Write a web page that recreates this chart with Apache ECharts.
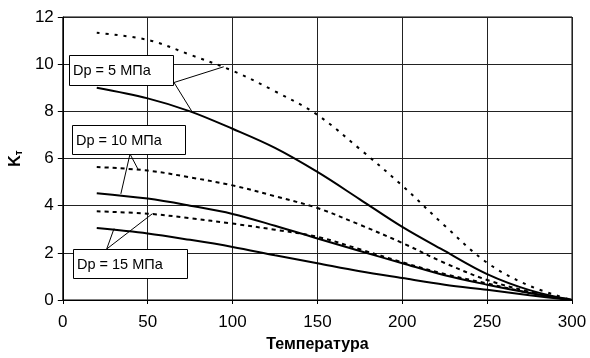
<!DOCTYPE html>
<html><head><meta charset="utf-8">
<script src="https://cdn.jsdelivr.net/npm/echarts@6/dist/echarts.min.js"></script>
<style>html,body{margin:0;padding:0;background:#fff}#c{width:590px;height:358px}</style>
</head><body><div id="c"></div>
<script>
const temps = [20, 50, 75, 100, 125, 150, 175, 200, 225, 250, 275, 300];
const dp5Dashed  = [11.33, 11.03, 10.4, 9.72, 8.85, 7.85, 6.4, 4.85, 3.15, 1.58, 0.6, 0];
const dp5Solid   = [9.0, 8.55, 8.0, 7.26, 6.45, 5.43, 4.27, 3.1, 2.08, 1.1, 0.42, 0];
const dp10Dashed = [5.64, 5.49, 5.2, 4.86, 4.4, 3.9, 3.19, 2.42, 1.57, 0.85, 0.35, 0];
const dp10Solid  = [4.53, 4.3, 4.0, 3.65, 3.15, 2.61, 2.08, 1.56, 1.05, 0.65, 0.3, 0];
const dp15Dashed = [3.76, 3.66, 3.47, 3.24, 2.98, 2.68, 2.15, 1.6, 1.1, 0.7, 0.3, 0];
const dp15Solid  = [3.05, 2.82, 2.55, 2.25, 1.9, 1.56, 1.22, 0.93, 0.65, 0.43, 0.2, 0];
const xTicks = [0, 50, 100, 150, 200, 250, 300];
const yTicks = [0, 2, 4, 6, 8, 10, 12];
const labels = ['Dp = 5 МПа', 'Dp = 10 МПа', 'Dp = 15 МПа'];
// leader-line targets on curves [T, K]
const leader5  = [[94.8, 9.89], [76, 8.0]];
const leader10 = [[44.2, 5.56], [34.2, 4.5]];
const leader15 = [[52.8, 3.66], [30.2, 3.03]];

const FONT = 'Liberation Sans, Arial, sans-serif';
const pairs = arr => temps.map((t, i) => [t, arr[i]]);
function ser(name, arr, type, w) {
  return { name, type: 'line', data: pairs(arr), smooth: 0.35, showSymbol: false, silent: true,
    lineStyle: { color: '#000', width: w, type: type }, z: 3 };
}
const chart = echarts.init(document.getElementById('c'), null, { renderer: 'canvas' });
chart.setOption({
  animation: false,
  backgroundColor: '#fff',
  grid: { left: 62, right: 18, top: 17, bottom: 56, show: true, borderColor: '#000', borderWidth: 1 },
  xAxis: {
    type: 'value', min: 0, max: 300, interval: 50,
    name: 'Температура', nameLocation: 'middle', nameGap: 37,
    nameTextStyle: { fontFamily: FONT, fontSize: 16, fontWeight: 'bold', color: '#000' },
    axisLine: { lineStyle: { color: '#000', width: 1 } },
    axisTick: { show: true, length: 4, lineStyle: { color: '#000' } },
    axisLabel: { fontFamily: FONT, fontSize: 17, color: '#000', margin: 14,
      formatter: v => xTicks.indexOf(v) >= 0 ? String(v) : '' },
    splitLine: { show: true, lineStyle: { color: '#222', width: 1 } }
  },
  yAxis: {
    type: 'value', min: 0, max: 12, interval: 2,
    name: '{a|K}{b|т}', nameLocation: 'middle', nameGap: 33,
    nameTextStyle: { rich: {
      a: { fontFamily: FONT, fontSize: 16, fontWeight: 'bold', color: '#000' },
      b: { fontFamily: FONT, fontSize: 10, fontWeight: 'bold', color: '#000', padding: [6, 0, 0, 0] }
    } },
    axisLine: { show: true, lineStyle: { color: '#000', width: 1 } },
    axisTick: { show: true, length: 5, lineStyle: { color: '#000' } },
    axisLabel: { fontFamily: FONT, fontSize: 17, color: '#000', margin: 9,
      formatter: v => yTicks.indexOf(v) >= 0 ? String(v) : '' },
    splitLine: { show: true, lineStyle: { color: '#222', width: 1 } }
  },
  series: [
    ser('dp5d', dp5Dashed, [3, 6], 2),
    ser('dp5s', dp5Solid, 'solid', 2),
    ser('dp10d', dp10Dashed, [4, 4], 2),
    ser('dp10s', dp10Solid, 'solid', 2),
    ser('dp15d', dp15Dashed, [4, 4], 2),
    ser('dp15s', dp15Solid, 'solid', 2)
  ]
});

const px = p => chart.convertToPixel({ gridIndex: 0 }, p);
const boxes = [
  { x: 69, y: 55, w: 104, h: 30, text: labels[0], start: [174, 82.5], targets: leader5 },
  { x: 72, y: 125, w: 113, h: 29, text: labels[1], start: [130, 154], targets: leader10 },
  { x: 73, y: 249, w: 114, h: 29, text: labels[2], start: [106.7, 249], targets: leader15 }
];
const g = [];
boxes.forEach(b => {
  b.targets.forEach(t => {
    const p = px(t);
    g.push({ type: 'line', z: 10, shape: { x1: b.start[0], y1: b.start[1], x2: p[0], y2: p[1] },
      style: { stroke: '#000', lineWidth: 1 } });
  });
  g.push({ type: 'rect', z: 11, shape: { x: b.x + 0.5, y: b.y + 0.5, width: b.w, height: b.h },
    style: { fill: '#fff', stroke: '#000', lineWidth: 1 } });
  g.push({ type: 'text', z: 12, x: b.x + 4, y: b.y + b.h / 2 + 1,
    style: { text: b.text, font: '14.5px ' + FONT, fill: '#000', textVerticalAlign: 'middle', verticalAlign: 'middle' } });
});
chart.setOption({ graphic: g });
</script></body></html>
